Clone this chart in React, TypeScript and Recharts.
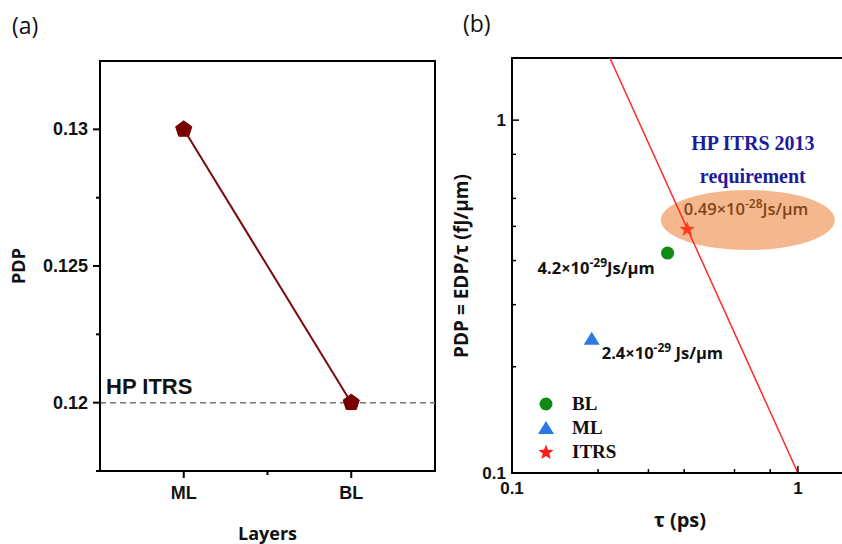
import React from 'react';
import { LineChart, Line, ScatterChart, Scatter, XAxis, YAxis, ReferenceLine, ReferenceArea, Legend } from 'recharts';

// panel (a)
const layers = ['ML', 'BL'];
const pdpByLayer = [0.13, 0.12];
const itrsPdp = 0.12;
const yTicksA = [0.1175, 0.12, 0.1225, 0.125, 0.1275, 0.13];
const yMajorA = [0.12, 0.125, 0.13];
const xTicksA = [1, 1.5, 2];

// panel (b)
const tauBL = [0.35];
const pdpBL = [0.42];
const tauML = [0.19];
const pdpML = [0.24];
const tauITRS = [0.41];
const pdpITRS = [0.49];
const tauLimit = [0.22, 1.0];
const pdpLimit = [1.5, 0.1];
const tauRegion = [0.668];
const pdpRegion = [0.521];
const logTicks = [0.1, 0.2, 0.3, 0.4, 0.5, 0.6, 0.7, 0.8, 0.9, 1];
const logMajor = [0.1, 1];

const dataA = layers.map((name, i) => ({ pos: i + 1, name, pdp: pdpByLayer[i] }));
const zip = (t: number[], p: number[]) => t.map((tau, i) => ({ tau, pdp: p[i] }));

const SANS = '"Liberation Sans", Arial, sans-serif';
const CAL = '"Open Sans", Lato, sans-serif';
const SERIF = '"Liberation Serif", "Times New Roman", serif';

const YTickA = (props: any) => {
  const { x, y, payload } = props;
  const major = yMajorA.includes(payload.value);
  const len = major ? 7 : 4;
  return (
    <g>
      <line x1={x} x2={x - len} y1={y} y2={y} stroke="#000" strokeWidth={2} />
      {major && (
        <text x={x - 12} y={y} dy={6} textAnchor="end" fontFamily={SANS} fontWeight={700} fontSize={18} fill="#111">
          {String(payload.value)}
        </text>
      )}
    </g>
  );
};

const XTickA = (props: any) => {
  const { x, y, payload } = props;
  const major = Number.isInteger(payload.value);
  const len = major ? 7 : 4;
  return (
    <g>
      <line x1={x} x2={x} y1={y} y2={y + len} stroke="#000" strokeWidth={2} />
      {major && (
        <text x={x} y={y + 28} textAnchor="middle" fontFamily={SANS} fontWeight={700} fontSize={18} fill="#111">
          {layers[payload.value - 1]}
        </text>
      )}
    </g>
  );
};

const YTickB = (props: any) => {
  const { x, y, payload } = props;
  const major = logMajor.includes(payload.value);
  const len = major ? 7 : 4;
  return (
    <g>
      <line x1={x} x2={x + len} y1={y} y2={y} stroke="#000" strokeWidth={1.5} />
      {major && (
        <text x={x - 6} y={y} dy={6} textAnchor="end" fontFamily={SANS} fontWeight={700} fontSize={17} fill="#111">
          {String(payload.value)}
        </text>
      )}
    </g>
  );
};

const XTickB = (props: any) => {
  const { x, y, payload } = props;
  const major = logMajor.includes(payload.value);
  const len = major ? 7 : 4;
  return (
    <g>
      <line x1={x} x2={x} y1={y} y2={y - len} stroke="#000" strokeWidth={1.5} />
      {major && (
        <text x={x} y={y + 21} textAnchor="middle" fontFamily={SANS} fontWeight={700} fontSize={17} fill="#111">
          {String(payload.value)}
        </text>
      )}
    </g>
  );
};

const pentagon = (cx: number, cy: number, r: number) =>
  Array.from({ length: 5 }, (_, k) => {
    const a = -Math.PI / 2 + (k * 2 * Math.PI) / 5;
    return `${cx + r * Math.cos(a)},${cy + r * Math.sin(a)}`;
  }).join(' ');

const starPath = (cx: number, cy: number, R: number, r: number) =>
  Array.from({ length: 10 }, (_, k) => {
    const a = -Math.PI / 2 + (k * Math.PI) / 5;
    const rad = k % 2 === 0 ? R : r;
    return `${k === 0 ? 'M' : 'L'}${cx + rad * Math.cos(a)},${cy + rad * Math.sin(a)}`;
  }).join(' ') + 'Z';

const PentDot = (props: any) => {
  const { cx, cy } = props;
  if (cx == null || cy == null) return null;
  return <polygon points={pentagon(cx, cy, 8.5)} fill="#7a0000" stroke="#7a0000" strokeWidth={1} />;
};

const Sup = ({ base, exp, unit }: { base: string; exp: string; unit: string }) => (
  <>
    {base}
    <tspan dy={-7} fontSize={12}>{exp}</tspan>
    <tspan dy={7}>{unit}</tspan>
  </>
);

const RegionShape = (props: any) => {
  const { cx, cy } = props;
  return (
    <g>
      <ellipse cx={cx} cy={cy} rx={87} ry={30} fill="#f4b183" fillOpacity={0.92} />
      <text x={cx + 5} y={cy - 70} textAnchor="middle" fontFamily={SERIF} fontWeight={700} fontSize={20} fill="#1c1c9c">
        HP ITRS 2013
      </text>
      <text x={cx + 5} y={cy - 37} textAnchor="middle" fontFamily={SERIF} fontWeight={700} fontSize={20} fill="#1c1c9c">
        requirement
      </text>
      <text x={cx - 64} y={cy - 5} fontFamily={CAL} fontWeight={600} fontSize={16.5} fill="#7e4416">
        <Sup base="0.49×10" exp="-28" unit="Js/μm" />
      </text>
    </g>
  );
};

const BLShape = (props: any) => {
  const { cx, cy } = props;
  return (
    <g>
      <circle cx={cx} cy={cy} r={6.5} fill="#118a11" />
      <text x={cx - 130} y={cy + 21} fontFamily={CAL} fontWeight={700} fontSize={16.5} fill="#111">
        <Sup base="4.2×10" exp="-29" unit="Js/μm" />
      </text>
    </g>
  );
};

const MLShape = (props: any) => {
  const { cx, cy } = props;
  return (
    <g>
      <polygon points={`${cx},${cy - 7} ${cx + 8},${cy + 6} ${cx - 8},${cy + 6}`} fill="#2a7ae2" />
      <text x={cx + 10} y={cy + 20} fontFamily={CAL} fontWeight={700} fontSize={16.5} fill="#111">
        <Sup base="2.4×10" exp="-29" unit=" Js/μm" />
      </text>
    </g>
  );
};

const StarShape = (props: any) => {
  const { cx, cy } = props;
  return <path d={starPath(cx, cy, 8, 3.4)} fill="#ff3b1f" />;
};

const legendItems = [
  { name: 'BL', kind: 'circle', color: '#118a11' },
  { name: 'ML', kind: 'triangle', color: '#2a7ae2' },
  { name: 'ITRS', kind: 'star', color: '#ff1a1a' },
];

const LegendB = () => (
  <div>
    {legendItems.map((it) => (
      <div key={it.name} style={{ display: 'flex', alignItems: 'center', height: 24 }}>
        <svg width={20} height={20}>
          {it.kind === 'circle' && <circle cx={10} cy={10} r={6.5} fill={it.color} />}
          {it.kind === 'triangle' && <polygon points="10,3 18,16 2,16" fill={it.color} />}
          {it.kind === 'star' && <path d={starPath(10, 10.5, 8, 3.4)} fill={it.color} />}
        </svg>
        <span style={{ marginLeft: 16, fontFamily: SERIF, fontWeight: 700, fontSize: 19, color: '#111' }}>{it.name}</span>
      </div>
    ))}
  </div>
);

export default function App() {
  return (
    <div style={{ position: 'absolute', left: 0, top: 0, width: 842, height: 544, overflow: 'hidden', background: '#fff' }}>
      <div style={{ position: 'absolute', left: 12, top: 9, fontFamily: CAL, fontSize: 23, color: '#111' }}>(a)</div>
      <div style={{ position: 'absolute', left: 463, top: 7, fontFamily: CAL, fontSize: 23, color: '#111' }}>(b)</div>

      <div style={{ position: 'absolute', left: 0, top: 0 }}>
        <LineChart width={440} height={544} data={dataA} margin={{ top: 61, right: 5, bottom: 43, left: 40 }}>
          <XAxis
            type="number"
            dataKey="pos"
            domain={[0.5, 2.5]}
            ticks={xTicksA}
            tickSize={0}
            tickMargin={0}
            tick={<XTickA />}
            height={30}
            axisLine={{ stroke: '#000', strokeWidth: 2 }}
            label={{
              content: ({ viewBox }: any) => (
                <text x={viewBox.x + viewBox.width / 2} y={540} textAnchor="middle" fontFamily={CAL} fontWeight={700} fontSize={18} fill="#111">
                  Layers
                </text>
              ),
            }}
          />
          <YAxis
            type="number"
            dataKey="pdp"
            domain={[0.1175, 0.1325]}
            ticks={yTicksA}
            tickSize={0}
            tickMargin={0}
            tick={<YTickA />}
            width={60}
            axisLine={{ stroke: '#000', strokeWidth: 2 }}
            label={{
              content: () => (
                <text x={25} y={266} transform="rotate(-90 25 266)" textAnchor="middle" fontFamily={CAL} fontWeight={700} fontSize={18} fill="#111">
                  PDP
                </text>
              ),
            }}
          />
          <ReferenceArea x1={0.5} x2={2.5} y1={0.1175} y2={0.1325} fill="none" stroke="#000" strokeWidth={2} />
          <ReferenceLine
            y={itrsPdp}
            stroke="#777"
            strokeWidth={1.5}
            strokeDasharray="6 4"
            label={{
              content: ({ viewBox }: any) => (
                <text x={viewBox.x + 6} y={viewBox.y - 9} fontFamily={SANS} fontWeight={700} fontSize={22} fill="#111">
                  HP ITRS
                </text>
              ),
            }}
          />
          <Line dataKey="pdp" stroke="#7a0a0a" strokeWidth={2} dot={<PentDot />} isAnimationActive={false} />
        </LineChart>
      </div>

      <div style={{ position: 'absolute', left: 420, top: 0 }}>
        <ScatterChart width={480} height={544} margin={{ top: 58, right: 16, bottom: 41, left: 32 }}>
          <XAxis
            type="number"
            dataKey="tau"
            scale="log"
            domain={[0.1, 2]}
            allowDataOverflow
            ticks={logTicks}
            tickSize={0}
            tickMargin={0}
            tick={<XTickB />}
            height={30}
            axisLine={{ stroke: '#000', strokeWidth: 2 }}
            label={{
              content: () => (
                <text x={260} y={527} textAnchor="middle" fontFamily={CAL} fontWeight={700} fontSize={20} fill="#111">
                  τ (ps)
                </text>
              ),
            }}
          />
          <YAxis
            type="number"
            dataKey="pdp"
            scale="log"
            domain={[0.1, 1.5]}
            allowDataOverflow
            ticks={logTicks}
            tickSize={0}
            tickMargin={0}
            tick={<YTickB />}
            width={60}
            axisLine={{ stroke: '#000', strokeWidth: 2 }}
            label={{
              content: () => (
                <text x={48} y={266} transform="rotate(-90 48 266)" textAnchor="middle" fontFamily={CAL} fontWeight={700} fontSize={19} fill="#111">
                  PDP = EDP/τ (fJ/μm)
                </text>
              ),
            }}
          />
          <ReferenceArea x1={0.1} x2={2} y1={0.1} y2={1.5} fill="none" stroke="#000" strokeWidth={2} />
          <Scatter data={zip(tauRegion, pdpRegion)} shape={<RegionShape />} isAnimationActive={false} />
          <Scatter
            data={zip(tauLimit, pdpLimit)}
            line={{ stroke: '#ff2a2a', strokeWidth: 1.5 }}
            shape={() => <g />}
            isAnimationActive={false}
          />
          <Scatter name="BL" data={zip(tauBL, pdpBL)} shape={<BLShape />} isAnimationActive={false} />
          <Scatter name="ML" data={zip(tauML, pdpML)} shape={<MLShape />} isAnimationActive={false} />
          <Scatter name="ITRS" data={zip(tauITRS, pdpITRS)} shape={<StarShape />} isAnimationActive={false} />
          <Legend
            layout="vertical"
            align="center"
            verticalAlign="middle"
            content={<LegendB />}
            wrapperStyle={{ position: 'absolute', left: 116, top: 392, width: 120 }}
          />
        </ScatterChart>
      </div>
    </div>
  );
}
